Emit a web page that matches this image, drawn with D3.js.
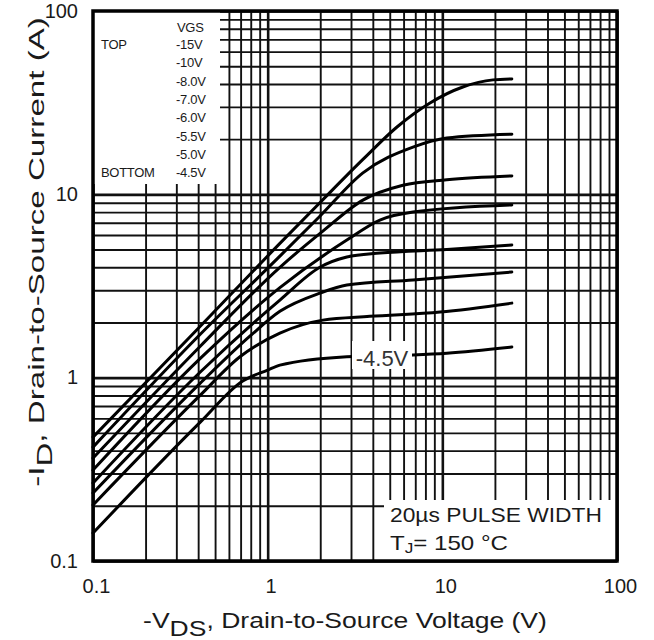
<!DOCTYPE html>
<html>
<head>
<meta charset="utf-8">
<script src="https://cdn.jsdelivr.net/npm/d3@7"></script>
<style>
  body { margin: 0; background: #fff; }
  svg { display: block; }
  text { font-family: "Liberation Sans", Arial, sans-serif; fill: #1a1a1a; }
</style>
</head>
<body>
<svg id="chart" width="654" height="640"></svg>
<script>
// Axis ticks
const xTicks = [0.1, 1, 10, 100];
const xTickLabels = ["0.1", "1", "10", "100"];
const yTicks = [0.1, 1, 10, 100];
const yTickLabels = ["0.1", "1", "10", "100"];

// Gate voltages (legend, top to bottom)
const legendLabels = ["-15V", "-10V", "-8.0V", "-7.0V", "-6.0V", "-5.5V", "-5.0V", "-4.5V"];

// Output characteristics: [-VDS (V), -ID (A)]
const vgs15  = [[0.1,0.474],[0.41,1.9],[1.175,5.4],[1.99,9.0],[3.51,15.5],[5.5,23.3],[8.5,31.5],[13.1,38.5],[19.5,42.1],[25,42.6]];
const vgs10  = [[0.1,0.418],[0.41,1.72],[1.175,4.6],[1.99,7.6],[3.51,13.1],[6.79,18.1],[10.6,20.3],[25,21.3]];
const vgs8   = [[0.1,0.364],[0.41,1.48],[1.175,4.0],[2.07,6.3],[3.51,9.3],[5.95,11.2],[10.6,12.0],[25,12.6]];
const vgs7   = [[0.1,0.313],[0.41,1.27],[1.175,3.1],[2.84,5.63],[4.39,7.24],[6.79,8.0],[25,8.75]];
const vgs6   = [[0.1,0.266],[0.41,1.07],[1.175,2.65],[1.99,4.0],[2.84,4.55],[4.39,4.78],[10.6,5.0],[25,5.29]];
const vgs55  = [[0.1,0.2346],[0.41,0.93],[0.8,1.7],[1.175,2.3],[1.99,2.89],[2.84,3.2],[6.79,3.41],[25,3.77]];
const vgs5   = [[0.1,0.202],[0.41,0.8],[0.694,1.3],[1.175,1.75],[2.07,2.06],[3.84,2.16],[9.7,2.28],[25,2.55]];
const vgs45  = [[0.1,0.142],[0.41,0.57],[0.72,0.96],[1.0,1.1],[1.175,1.17],[2.84,1.30],[6.79,1.33],[10.6,1.36],[25,1.47]];
const curves = [vgs15, vgs10, vgs8, vgs7, vgs6, vgs55, vgs5, vgs45];

const svg = d3.select("#chart");
const L = 93, R = 617, T = 11, B = 561;

const x = d3.scaleLog().domain([0.1, 100]).range([L, R]);
const y = d3.scaleLog().domain([0.1, 100]).range([B, T]);

// stretch a text element horizontally (in its own frame) to a given width around pivot px
function fitWidth(sel, width, px) {
  const w = sel.node().getBBox().width;
  const k = width / w;
  sel.attr("transform", `translate(${px},0) scale(${k},1) translate(${-px},0)`);
}

// grid values: 1..9 per decade
const gridVals = [];
[0.1, 1, 10].forEach(d => { for (let k = 1; k <= 9; k++) gridVals.push(+(d * k).toPrecision(3)); });
gridVals.push(100);
const isDecade = v => Math.abs(Math.log10(v) - Math.round(Math.log10(v))) < 1e-9;

// vertical grid
svg.append("g")
  .attr("transform", `translate(0,${B})`)
  .call(d3.axisBottom(x).tickValues(gridVals).tickSize(-(B - T)).tickFormat(""))
  .call(g => g.select(".domain").remove())
  .call(g => g.selectAll(".tick line")
    .attr("stroke", "#111")
    .attr("stroke-width", d => isDecade(d) ? 2.6 : 1.9));

// horizontal grid
svg.append("g")
  .attr("transform", `translate(${L},0)`)
  .call(d3.axisLeft(y).tickValues(gridVals).tickSize(-(R - L)).tickFormat(""))
  .call(g => g.select(".domain").remove())
  .call(g => g.selectAll(".tick line")
    .attr("stroke", "#111")
    .attr("stroke-width", d => isDecade(d) ? 2.6 : 1.9));

// legend panel
svg.append("rect").attr("x", L).attr("y", T).attr("width", 127).attr("height", 173).attr("fill", "#fff");

const leg = svg.append("g").style("font-size", "13px").style("letter-spacing", "-0.3px").style("fill", "#2a2a2a");
leg.append("text").attr("x", 177).attr("y", 32).text("VGS");
leg.append("text").attr("x", 101).attr("y", 49).text("TOP");
leg.append("text").attr("x", 101).attr("y", 177).text("BOTTOM");
leg.selectAll("text.lv").data(legendLabels).join("text")
  .attr("class", "lv")
  .attr("x", 176)
  .attr("y", (d, i) => 49 + i * 18.3)
  .text(d => d);

// curves
const line = d3.line().x(d => x(d[0])).y(d => y(d[1])).curve(d3.curveMonotoneX);
svg.append("g").selectAll("path").data(curves).join("path")
  .attr("d", line)
  .attr("fill", "none")
  .attr("stroke", "#000")
  .attr("stroke-width", 3)
  .attr("stroke-linecap", "round");

// in-plot label for the lowest curve
svg.append("rect").attr("x", 352).attr("y", 341).attr("width", 60).attr("height", 28).attr("fill", "#fff");
svg.append("text").attr("x", 382).attr("y", 366).attr("text-anchor", "middle")
  .style("font-size", "22px").style("fill", "#333").text("-4.5V");

// test-condition note
svg.append("rect").attr("x", 384).attr("y", 500).attr("width", R - 384).attr("height", B - 500).attr("fill", "#fff");
const pw = svg.append("text").attr("x", 390).attr("y", 522).style("font-size", "21px").text("20µs PULSE WIDTH");
fitWidth(pw, 212, 390);
const tj = svg.append("text").attr("x", 390).attr("y", 550).style("font-size", "21px");
tj.append("tspan").text("T");
tj.append("tspan").attr("dy", 3).style("font-size", "15px").text("J");
tj.append("tspan").attr("dy", -3).text("= 150 °C");
fitWidth(tj, 118, 390);

// frame
svg.append("rect").attr("x", L).attr("y", T).attr("width", R - L).attr("height", B - T)
  .attr("fill", "none").attr("stroke", "#000").attr("stroke-width", 3.5);

// tick labels
svg.append("g")
  .attr("transform", `translate(0,${B})`)
  .call(d3.axisBottom(x).tickValues(xTicks).tickSize(0).tickPadding(18)
    .tickFormat((d, i) => xTickLabels[i]))
  .call(g => g.select(".domain").remove())
  .call(g => g.selectAll("text").attr("dx", 3).style("font-size", "20px").style("font-family", "'Liberation Sans', Arial, sans-serif").attr("fill", "#1a1a1a"));

svg.append("g")
  .attr("transform", `translate(${L},0)`)
  .call(d3.axisLeft(y).tickValues(yTicks).tickSize(0).tickPadding(15)
    .tickFormat((d, i) => yTickLabels[i]))
  .call(g => g.select(".domain").remove())
  .call(g => g.selectAll("text").attr("dy", "0.3em").style("font-size", "20px").style("font-family", "'Liberation Sans', Arial, sans-serif").attr("fill", "#1a1a1a"));

// axis titles
const xt = svg.append("text").attr("x", 345).attr("y", 628).attr("text-anchor", "middle").style("font-size", "22px");
xt.append("tspan").text("-V");
xt.append("tspan").attr("dy", 8).text("DS");
xt.append("tspan").attr("dy", -8).text(", Drain-to-Source Voltage (V)");
fitWidth(xt, 404, 345);

const ytg = svg.append("g").attr("transform", "translate(44,252) rotate(-90)");
const yt = ytg.append("text").attr("x", 0).attr("y", 0).attr("text-anchor", "middle").style("font-size", "22px");
yt.append("tspan").text("-I");
yt.append("tspan").attr("dy", 8).text("D");
yt.append("tspan").attr("dy", -8).text(",  Drain-to-Source Current (A)");
fitWidth(yt, 470, 0);
</script>
</body>
</html>
